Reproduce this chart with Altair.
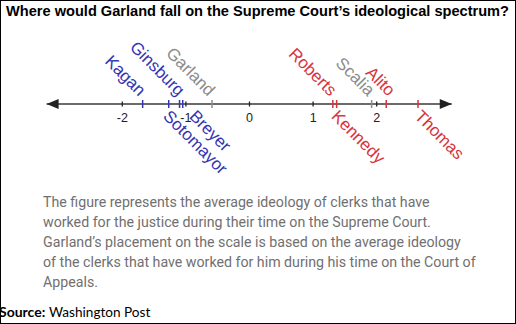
import altair as alt
import pandas as pd

# ---- data ----
names = ["Kagan", "Ginsburg", "Sotomayor", "Breyer", "Garland",
         "Roberts", "Kennedy", "Scalia", "Alito", "Thomas"]
scores = [-1.68, -1.27, -1.10, -1.05, -0.59, 1.31, 1.37, 1.92, 2.15, 2.65]
groups = ["Liberal", "Liberal", "Liberal", "Liberal", "Garland/Scalia",
          "Conservative", "Conservative", "Garland/Scalia", "Conservative", "Conservative"]
sides = ["above", "above", "below", "below", "above",
         "above", "below", "above", "above", "below"]
tick_values = [-2, -1, 0, 1, 2]
tick_labels = ["-2", "-1", "0", "1", "2"]
axis_extent = [-3.19, 3.18]

title_text = "Where would Garland fall on the Supreme Court\u2019s ideological spectrum?"
caption_lines = [
    "The figure represents the average ideology of clerks that have",
    "worked for the justice during their time on the Supreme Court.",
    "Garland\u2019s placement on the scale is based on the average ideology",
    "of the clerks that have worked for him during his time on the Court of",
    "Appeals.",
]
source_bold = "Source:"
source_rest = "Washington Post"

# ---- layout (pixels) ----
W, H = 516, 324
ZERO_PX, UNIT_PX = 249.5, 63.6
x_dom = [-ZERO_PX / UNIT_PX, (W - ZERO_PX) / UNIT_PX]
AXIS_Y = 104
label_nudge_px = {"Kagan": -4, "Ginsburg": 9, "Garland": -4, "Roberts": -3,
                  "Scalia": -4, "Alito": 2, "Sotomayor": -8, "Breyer": 15,
                  "Kennedy": 3, "Thomas": 5}

df = pd.DataFrame({"name": names, "score": scores, "group": groups, "side": sides})
df["label_x"] = [s + label_nudge_px[n] / UNIT_PX for n, s in zip(names, scores)]

xs = alt.Scale(domain=x_dom, nice=False, zero=False)
color = alt.Color("group:N", legend=None,
                  scale=alt.Scale(domain=["Liberal", "Conservative", "Garland/Scalia"],
                                  range=["#3434b4", "#d8343e", "#8c8c8c"]))
one = pd.DataFrame({"a": [0]})

axis_df = pd.DataFrame({"x0": [axis_extent[0]], "x1": [axis_extent[1]]})
axis_line = alt.Chart(axis_df).mark_rule(color="#3a3a3a", strokeWidth=1.5).encode(
    x=alt.X("x0:Q", scale=xs, axis=None), x2="x1:Q", y=alt.value(AXIS_Y))

arrow_l = alt.Chart(axis_df).mark_point(
    shape="M-1,0L1,-0.85L1,0.85Z", filled=True, color="#222", opacity=1, size=144,
    xOffset=6).encode(x=alt.X("x0:Q", scale=xs), y=alt.value(AXIS_Y))
arrow_r = alt.Chart(axis_df).mark_point(
    shape="M1,0L-1,-0.85L-1,0.85Z", filled=True, color="#222", opacity=1, size=144,
    xOffset=-6).encode(x=alt.X("x1:Q", scale=xs), y=alt.value(AXIS_Y))

ticks_df = pd.DataFrame({"v": tick_values, "lab": tick_labels})
axis_ticks = alt.Chart(ticks_df).mark_rule(color="#222", strokeWidth=1.3).encode(
    x=alt.X("v:Q", scale=xs), y=alt.value(AXIS_Y - 2.5), y2=alt.value(AXIS_Y + 2.5))
axis_labels = alt.Chart(ticks_df).mark_text(
    font="Liberation Sans", fontSize=12.5, color="#222", baseline="middle").encode(
    x=alt.X("v:Q", scale=xs), y=alt.value(AXIS_Y + 14), text="lab:N")

j_ticks = alt.Chart(df).mark_rule(strokeWidth=1.5).encode(
    x=alt.X("score:Q", scale=xs), y=alt.value(AXIS_Y - 4), y2=alt.value(AXIS_Y + 4),
    color=color)

above = alt.Chart(df).transform_filter(alt.datum.side == "above").mark_text(
    font="Liberation Sans", fontSize=17, angle=45, align="right",
    baseline="alphabetic").encode(
    x=alt.X("label_x:Q", scale=xs), y=alt.value(AXIS_Y - 7), text="name:N", color=color)
below = alt.Chart(df).transform_filter(alt.datum.side == "below").mark_text(
    font="Liberation Sans", fontSize=17, angle=45, align="left",
    baseline="top").encode(
    x=alt.X("label_x:Q", scale=xs), y=alt.value(AXIS_Y + 4), text="name:N", color=color)

title = alt.Chart(one).mark_text(
    text=title_text, font="Liberation Sans", fontSize=14.6, fontWeight="bold",
    color="#000", align="left", baseline="alphabetic").encode(
    x=alt.value(6), y=alt.value(16))

caption = alt.Chart(one).mark_text(
    text=caption_lines, font="Roboto", fontSize=14.2, lineHeight=20, color="#707070",
    align="left", baseline="alphabetic").encode(x=alt.value(43), y=alt.value(206.5))

src1 = alt.Chart(one).mark_text(
    text=source_bold, font="Lato", fontSize=14, fontWeight="bold", color="#000",
    align="left", baseline="alphabetic").encode(x=alt.value(-1), y=alt.value(317))
src2 = alt.Chart(one).mark_text(
    text=source_rest, font="Lato", fontSize=13.6, color="#000",
    align="left", baseline="alphabetic").encode(x=alt.value(49), y=alt.value(317))

chart = alt.layer(axis_line, arrow_l, arrow_r, axis_ticks, axis_labels, j_ticks,
                  above, below, title, caption, src1, src2).properties(
    width=W, height=H, padding=0, autosize=alt.AutoSizeParams(type="none"),
    background="white").configure_view(stroke="#000", strokeWidth=2)

chart.save("out.html", embed_options={"renderer": "svg", "actions": False})
